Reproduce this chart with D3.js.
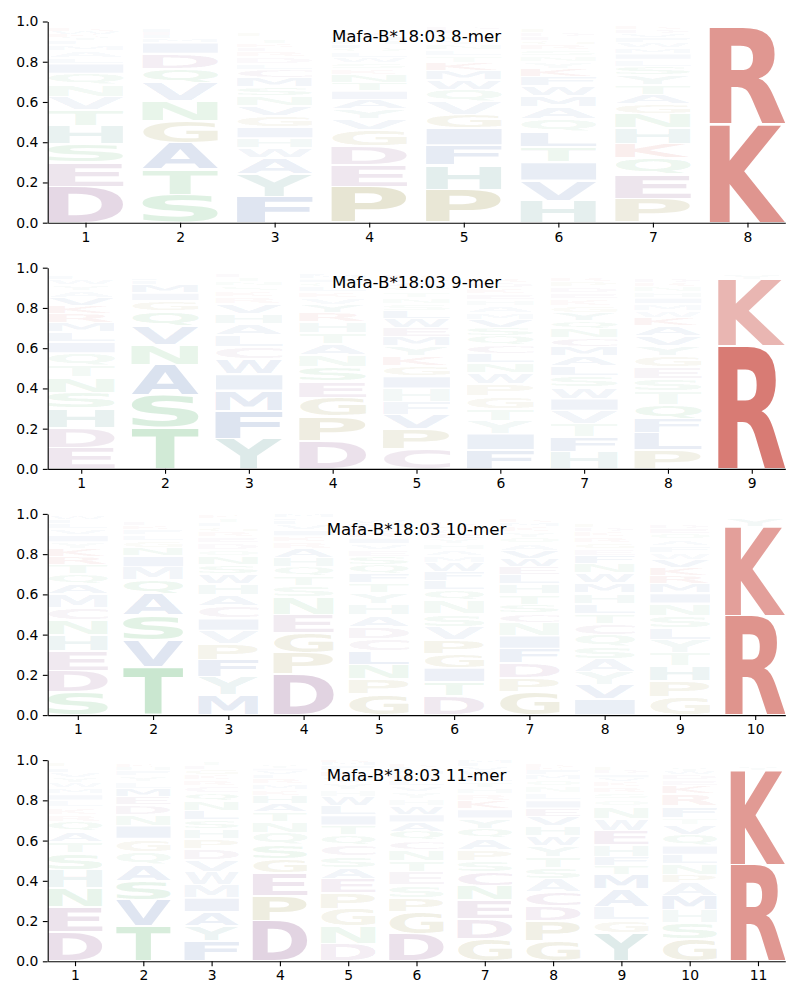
<!DOCTYPE html>
<html><head><meta charset="utf-8">
<script src="https://cdn.jsdelivr.net/npm/d3@7"></script>
<style>body{margin:0;background:#fff}svg{display:block}</style>
</head><body>
<script>
// ---------- data ----------
const titles = ["Mafa-B*18:03 8-mer","Mafa-B*18:03 9-mer","Mafa-B*18:03 10-mer","Mafa-B*18:03 11-mer"];
const yTicks = [0.0,0.2,0.4,0.6,0.8,1.0];
// each column: letters from bottom to top with their heights
const logo8 = [
 "D:.18 E:.12 S:.09 H:.09 T:.08 V:.065 N:.063 Q:.053 I:.05 L:.03 A:.035 M:.03 F:.02 Y:.015 K:.015 W:.015 R:.015 G:.01 P:.01 C:.01",
 "S:.14 T:.125 A:.13 G:.11 N:.10 V:.09 Q:.07 D:.075 I:.055 M:.02 L:.015 E:.015 F:.015 K:.01 R:.01 H:.005 Y:.005 W:.005 P:.005 C:.005",
 "F:.13 Y:.11 A:.08 W:.05 H:.05 I:.055 G:.055 V:.05 N:.05 S:.045 M:.045 C:.04 L:.03 D:.035 R:.025 E:.02 K:.02 T:.02 Q:.015 P:.015",
 "P:.18 E:.105 D:.095 G:.08 V:.055 Y:.05 A:.045 I:.045 T:.04 N:.04 K:.03 S:.03 W:.025 L:.025 Q:.02 F:.02 H:.02 M:.02 R:.02 C:.015",
 "P:.165 H:.12 F:.10 I:.085 G:.066 V:.064 Q:.06 W:.05 M:.045 K:.04 T:.035 L:.03 N:.025 Y:.02 S:.02 A:.015 E:.015 D:.015 R:.01 C:.01",
 "H:.11 V:.10 I:.09 T:.075 L:.075 Q:.065 A:.06 M:.055 W:.05 F:.045 K:.04 Y:.035 N:.03 S:.03 R:.025 G:.02 E:.02 D:.02 P:.015 C:.015",
 "P:.12 E:.12 Q:.08 K:.07 H:.08 N:.07 G:.05 A:.045 T:.05 Y:.05 S:.04 L:.035 I:.03 M:.03 W:.025 F:.025 V:.02 D:.02 R:.015 C:.01",
 "K:.49 R:.48 H:.005 Y:.005 L:.005 S:.005"
];
const logo9 = [
 "E:.105 D:.10 H:.095 S:.08 N:.075 T:.06 Q:.06 I:.055 L:.05 M:.045 R:.045 K:.04 V:.04 A:.035 Y:.03 W:.025 F:.02 G:.015 P:.01 C:.01",
 "T:.205 S:.16 A:.15 N:.10 V:.095 Q:.075 G:.05 I:.04 M:.04 L:.02 F:.015 K:.01 E:.01 D:.01 H:.005 R:.005 Y:.005 W:.005 P:.005 C:.005",
 "Y:.15 F:.14 M:.10 I:.08 W:.075 C:.06 L:.06 A:.055 H:.05 V:.05 R:.035 K:.03 S:.025 N:.02 T:.02 E:.015 Q:.01 D:.01 G:.01 P:.005",
 "D:.14 P:.12 G:.095 E:.08 S:.07 N:.06 A:.055 T:.055 H:.055 R:.045 Y:.04 V:.035 K:.03 L:.025 Q:.02 I:.02 M:.015 F:.015 W:.01 C:.01",
 "C:.10 P:.10 V:.07 F:.065 H:.065 I:.06 G:.05 K:.05 Y:.05 M:.045 E:.045 W:.045 L:.04 S:.035 N:.03 T:.03 Q:.025 A:.02 D:.02 R:.015",
 "F:.095 I:.08 Y:.065 T:.06 G:.06 P:.06 W:.055 N:.05 L:.045 C:.045 Q:.045 S:.04 V:.04 M:.035 A:.035 H:.03 E:.03 K:.03 D:.025 R:.02",
 "H:.085 F:.075 T:.065 V:.065 I:.06 W:.055 S:.055 L:.05 A:.05 M:.045 C:.045 N:.045 Q:.04 Y:.04 G:.035 K:.035 E:.03 D:.03 P:.025 R:.02",
 "P:.095 L:.085 F:.07 Q:.07 T:.065 S:.06 E:.06 G:.055 Y:.05 V:.05 A:.05 K:.04 W:.035 M:.035 I:.03 H:.03 N:.025 R:.02 D:.02 C:.015",
 "R:.61 K:.33 Y:.03 H:.005 L:.005 S:.005 A:.005"
];
const logo10 = [
 "S:.115 D:.105 E:.10 H:.08 N:.07 C:.065 M:.065 A:.05 Q:.05 T:.045 R:.04 K:.04 Y:.035 I:.035 V:.03 L:.025 F:.02 W:.015 G:.015 P:.01",
 "T:.24 V:.13 S:.125 A:.105 Q:.07 M:.065 I:.055 N:.04 G:.035 L:.03 F:.025 K:.02 E:.015 R:.01 Y:.01 D:.01 H:.005 P:.005 C:.005 W:.005",
 "M:.10 Y:.09 F:.085 P:.08 V:.065 I:.06 C:.06 A:.055 H:.055 W:.05 S:.045 N:.04 Q:.035 D:.035 E:.03 R:.025 G:.025 L:.02 T:.02 K:.015",
 "D:.205 P:.105 G:.10 E:.09 N:.085 S:.055 T:.05 Q:.045 H:.045 A:.045 R:.035 K:.03 I:.03 V:.025 L:.02 F:.015 M:.015 Y:.01 W:.005 C:.005",
 "G:.105 P:.075 N:.07 L:.068 C:.062 D:.06 A:.056 H:.055 Y:.055 T:.05 F:.045 Q:.045 S:.04 E:.035 V:.03 I:.03 R:.025 K:.025 M:.02 W:.015",
 "D:.095 T:.07 I:.07 G:.07 P:.07 V:.065 S:.065 N:.065 Q:.05 L:.045 F:.045 W:.045 M:.035 A:.03 H:.03 Y:.025 E:.025 C:.02 K:.02 R:.015",
 "G:.115 P:.07 D:.075 F:.07 I:.065 N:.065 C:.045 S:.045 T:.05 H:.05 L:.045 E:.04 W:.04 V:.04 A:.035 Q:.03 Y:.03 K:.025 M:.02 R:.015",
 "I:.08 V:.07 Y:.065 A:.065 S:.06 Q:.06 C:.055 T:.05 L:.05 H:.05 M:.05 W:.05 N:.045 F:.04 E:.035 G:.03 R:.03 K:.025 D:.02 P:.015",
 "G:.09 P:.08 H:.075 T:.065 Y:.065 L:.06 S:.06 N:.06 I:.05 M:.045 R:.04 K:.04 V:.04 W:.035 F:.035 A:.03 Q:.03 E:.025 D:.02 C:.015",
 "R:.495 K:.44 Y:.04 H:.005 L:.005"
];
const logo11 = [
 "D:.145 E:.125 N:.095 H:.09 S:.085 T:.055 A:.05 Q:.05 R:.035 K:.035 L:.035 I:.03 M:.03 W:.025 Y:.025 V:.025 F:.02 G:.015 P:.015 C:.01",
 "T:.175 V:.13 S:.095 A:.08 Q:.065 G:.065 I:.065 N:.055 D:.045 E:.04 M:.04 L:.035 Y:.03 F:.025 H:.02 K:.015 R:.01 W:.005 C:.005 P:.005",
 "F:.10 Y:.075 A:.07 I:.07 M:.065 W:.065 V:.06 D:.055 P:.05 H:.05 S:.045 L:.045 N:.045 Q:.04 C:.035 R:.03 K:.025 G:.025 E:.02 T:.02",
 "D:.20 P:.125 E:.115 G:.07 S:.07 Q:.06 N:.055 T:.045 A:.04 H:.04 K:.03 M:.03 R:.025 L:.02 V:.02 I:.015 Y:.015 F:.01 W:.005 C:.005",
 "D:.087 N:.087 G:.087 P:.08 E:.07 A:.055 S:.055 C:.055 Q:.05 T:.05 I:.05 L:.045 W:.045 H:.035 Y:.035 V:.03 K:.03 F:.025 M:.015 R:.015",
 "D:.135 G:.11 P:.07 S:.065 E:.065 T:.055 N:.055 C:.045 Q:.045 A:.045 I:.04 W:.04 H:.035 Y:.035 V:.03 L:.03 K:.025 M:.02 F:.02 R:.015",
 "G:.11 D:.10 E:.095 N:.07 C:.07 S:.055 P:.055 A:.055 Q:.05 Y:.05 I:.045 K:.04 R:.035 H:.03 T:.03 L:.03 W:.025 V:.02 F:.02 M:.015",
 "G:.10 P:.10 D:.075 C:.07 A:.065 S:.055 T:.055 Y:.055 W:.05 H:.05 V:.045 E:.04 I:.04 L:.035 N:.035 Q:.03 M:.025 F:.025 K:.015 R:.015",
 "Y:.14 G:.065 L:.065 A:.09 M:.07 T:.045 F:.045 H:.06 E:.07 W:.06 N:.06 Q:.035 S:.03 R:.03 K:.025 V:.02 I:.02 D:.02 P:.015 C:.01",
 "G:.11 S:.08 H:.065 M:.07 A:.065 P:.04 N:.055 L:.045 I:.045 Q:.055 V:.05 T:.035 F:.055 R:.06 K:.04 E:.03 D:.025 W:.02 Y:.015 C:.01",
 "R:.48 K:.465 Y:.02 H:.005 L:.005 S:.005"
];
const panels = [logo8, logo9, logo10, logo11];

// ---------- styles ----------
const letterColor = {K:"#ca4d43",R:"#ca4d43",D:"#8b538b",E:"#8b538b",C:"#8b538b",
  S:"#4cae60",T:"#4cae60",N:"#4cae60",Q:"#4cae60",G:"#968c3c",P:"#968c3c",
  A:"#3c64aa",V:"#3c64aa",F:"#3c64aa",M:"#3c64aa",L:"#3c64aa",I:"#3c64aa",W:"#3c64aa",
  H:"#48908a",Y:"#48908a"};
const FONT = "DejaVu Sans";
const W = 800, H = 1000;
const left = 47.7, right = 785.3, ph = 201.2;
const svg = d3.select("body").append("svg").attr("width", W).attr("height", H);

// ink bounds of glyphs
const cv = document.createElement("canvas").getContext("2d");
cv.font = `bold 100px "${FONT}"`;
const inkCache = {};
function ink(ch){
  if(!inkCache[ch]){
    const m = cv.measureText(ch);
    inkCache[ch] = {x0:-m.actualBoundingBoxLeft, x1:m.actualBoundingBoxRight,
                    y0:-m.actualBoundingBoxAscent, y1:m.actualBoundingBoxDescent};
  }
  return inkCache[ch];
}
function parseCol(s){
  return s.trim().split(/\s+/).map(t => { const [l,v] = t.split(":"); return {l, v:+v}; });
}

panels.forEach((cols, pi) => {
  const top = 21.5 + pi*246.2, bottom = top + ph;
  const n = cols.length;
  const x = d3.scaleLinear().domain([0.6, n + 0.4]).range([left, right]);
  const y = d3.scaleLinear().domain([0, 1]).range([bottom, top]);
  const g = svg.append("g");
  const clipId = "clip" + pi;
  svg.append("clipPath").attr("id", clipId).append("rect")
     .attr("x", left).attr("y", top).attr("width", right-left).attr("height", ph);
  const lg = g.append("g").attr("clip-path", `url(#${clipId})`);
  cols.forEach((cs, ci) => {
    const items = parseCol(cs);
    let cum = 0;
    const pos = ci + 1;
    const gx0 = x(pos - 0.4), gx1 = x(pos + 0.4);
    items.forEach(it => {
      const y0 = y(cum + it.v), y1 = y(cum);
      cum += it.v;
      let hpx = y1 - y0;
      let inset = hpx > 4 ? 0.9 : hpx*0.2;
      const ty = y0 + inset, th = hpx - 2*inset;
      if (th <= 0.05) return;
      const b = ink(it.l);
      const sx = (gx1 - gx0)/(b.x1 - b.x0), sy = th/(b.y1 - b.y0);
      lg.append("text").text(it.l)
        .attr("font-family", FONT).attr("font-weight", "bold").attr("font-size", 100)
        .attr("fill", letterColor[it.l] || "#888")
        .attr("fill-opacity", Math.min(1, 0.01 + 1.2*it.v))
        .attr("transform", `translate(${gx0},${ty}) scale(${sx},${sy}) translate(${-b.x0},${-b.y0})`);
    });
  });
  // axes
  const ya = g.append("g").attr("transform", `translate(${left},0)`)
    .call(d3.axisLeft(y).tickValues(yTicks).tickFormat(d3.format(".1f")).tickSize(4.86).tickPadding(4.4).tickSizeOuter(0));
  const xa = g.append("g").attr("transform", `translate(0,${bottom})`)
    .call(d3.axisBottom(x).tickValues(d3.range(1, n+1)).tickFormat(d3.format("d")).tickSize(4.86).tickPadding(4.4).tickSizeOuter(0));
  [ya, xa].forEach(a => {
    a.selectAll("text").attr("font-family", FONT).attr("font-size", 13.9).attr("fill", "#000");
    a.selectAll("line,path").attr("stroke", "#000").attr("stroke-width", 1.11);
  });
  // title
  g.append("text").attr("x", (left+right)/2).attr("y", top + 20.6)
    .attr("text-anchor", "middle").attr("font-family", FONT).attr("font-size", 16.67)
    .attr("fill", "#000").text(titles[pi]);
});
</script>
</body></html>
